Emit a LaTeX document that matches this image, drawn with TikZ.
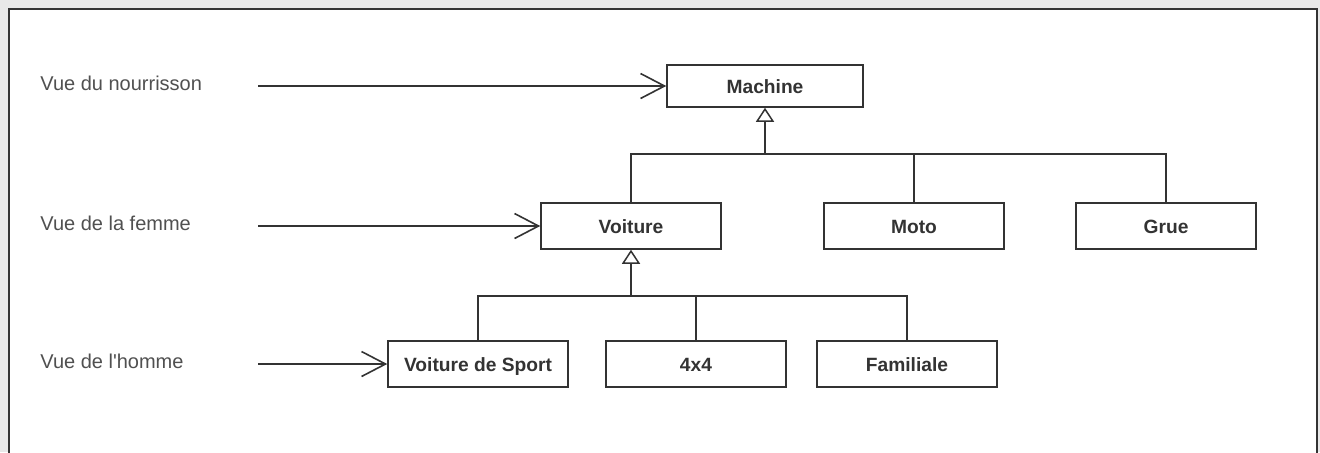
\documentclass[tikz,border=0pt]{standalone}
\usepackage{fontspec}
\setmainfont{Liberation Sans}
\usetikzlibrary{arrows.meta}
\definecolor{texte}{HTML}{505050}
\definecolor{cadre}{HTML}{333333}
\tikzset{
  classe/.style={draw=cadre, line width=0.75pt, fill=white, inner sep=0pt,
    minimum width=90pt, minimum height=23pt, text height=7pt, text depth=0pt,
    font=\fontsize{9.6}{11}\selectfont\bfseries, text=cadre},
  vue/.style={anchor=west, inner sep=0pt, font=\fontsize{10}{12}\selectfont, text=texte},
  fleche/.style={line width=0.8pt, draw=cadre, -{Straight Barb[length=12pt, width=12.5pt, line width=0.8pt]}},
  herite/.style={line width=0.75pt, draw=cadre, -{Triangle[open, length=7pt, width=9pt, line width=0.75pt]}},
  lien/.style={line width=0.75pt, draw=cadre}
}
\begin{document}
\begin{tikzpicture}[x=0.5pt, y=-0.5pt]
	\useasboundingbox (0,0) rectangle (1320,452);
	% Frame
	\fill[gray!18] (0,0) rectangle (1320,452);
	\fill[white] (9,9) rectangle (1317,460);
	\draw[cadre, line width=1pt] (9,460) -- (9,9) -- (1317,9) -- (1317,460);
	% Classes
	\node[classe, minimum width=98pt, minimum height=21pt] (machine) at (765,86) {Machine};
	\node[classe] (voiture) at (631,226) {Voiture};
	\node[classe] (moto) at (914,226) {Moto};
	\node[classe] (grue) at (1166,226) {Grue};
	\node[classe] (sport) at (478,364) {Voiture de Sport};
	\node[classe] (quatre) at (696,364) {4x4};
	\node[classe] (familiale) at (907,364) {Familiale};
	% Heritage
	\coordinate (busA) at (765,154);
	\coordinate (busB) at (631,296);
	\draw[herite] (busA) -- (machine.south);
	\draw[lien] (voiture.north) |- (busA);
	\draw[lien] (moto.north) |- (busA);
	\draw[lien] (grue.north) |- (busA);
	\draw[herite] (busB) -- (voiture.south);
	\draw[lien] (sport.north) |- (busB);
	\draw[lien] (quatre.north) |- (busB);
	\draw[lien] (familiale.north) |- (busB);
	% Views
	\node[vue] (v1) at (40,83) {Vue du nourrisson};
	\node[vue] (v2) at (40,223) {Vue de la femme};
	\node[vue] (v3) at (40,361) {Vue de l\textquotesingle homme};
	\coordinate (d1) at (258,86);
	\coordinate (d2) at (258,226);
	\coordinate (d3) at (258,364);
	\draw[fleche] (d1) -- (machine.west);
	\draw[fleche] (d2) -- (voiture.west);
	\draw[fleche] (d3) -- (sport.west);
\end{tikzpicture}
\end{document}
